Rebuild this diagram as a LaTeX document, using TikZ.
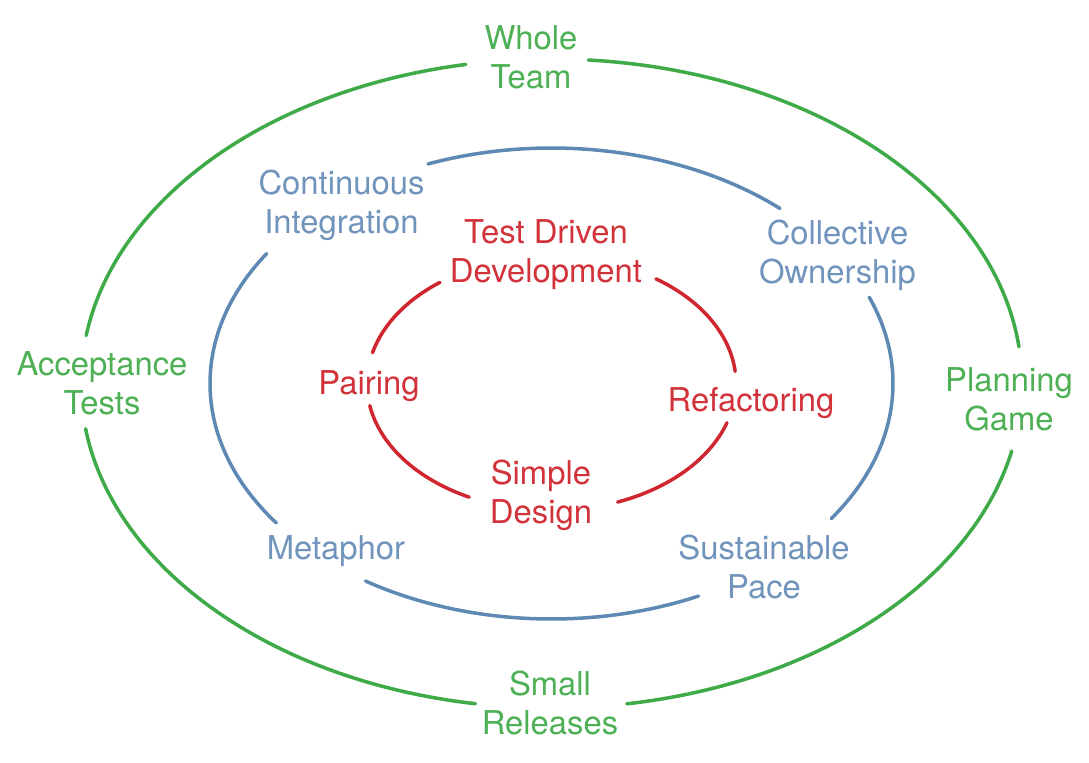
\documentclass[tikz,border=0pt]{standalone}
\usepackage{fontspec}
\setmainfont{TeX Gyre Heros}
\usetikzlibrary{calc}
\definecolor{xpgreen}{RGB}{62,170,72}
\definecolor{xpblue}{RGB}{95,137,181}
\definecolor{xpred}{RGB}{208,38,48}
\definecolor{xpgreentext}{RGB}{78,176,84}
\definecolor{xpbluetext}{RGB}{112,148,188}
\definecolor{xpredtext}{RGB}{210,50,58}
\tikzset{
  lbl/.style={inner sep=0pt, align=center, font=\fontsize{16.4}{19.5}\selectfont},
  glbl/.style={lbl, text=xpgreentext},
  blbl/.style={lbl, text=xpbluetext},
  rlbl/.style={lbl, text=xpredtext},
  ring/.style={line width=1.75pt, line cap=round},
  gring/.style={ring, draw=xpgreen},
  bring/.style={ring, draw=xpblue},
  rring/.style={ring, draw=xpred}
}
\begin{document}
\begin{tikzpicture}[x=0.5pt,y=0.5pt]
\useasboundingbox[fill=white] (0,0) rectangle (1089,-762);
\coordinate (C) at (551.5,-383.5);
% labels
\node[glbl] (whole) at (531,-57) {Whole\\Team};
\node[glbl] (at) at (102,-383) {Acceptance\\Tests};
\node[glbl] (pg) at (1009,-399) {Planning\\Game};
\node[glbl] (sr) at (550,-703) {Small\\Releases};
\node[blbl] (ci) at (341.5,-205) {Continuous\\Integration};
\node[blbl] (co) at (837.5,-255) {Collective\\Ownership};
\node[blbl] (meta) at (336,-551) {Metaphor};
\node[blbl] (sp) at (764,-567) {Sustainable\\Pace};
\node[rlbl] (tdd) at (546,-255) {Test Driven\\Development};
\node[rlbl] (pair) at (369,-386) {Pairing};
\node[rlbl] (refac) at (751,-403) {Refactoring};
\node[rlbl] (sd) at (541,-495) {Simple\\Design};
% outer ring (green)
\draw[gring] ($(C)+(100.5:470.5 and 324.5)$) arc[start angle=100.5, end angle=171.5, x radius=470.5, y radius=324.5];
\draw[gring] ($(C)+(188:470.5 and 324.5)$) arc[start angle=188, end angle=260.7, x radius=470.5, y radius=324.5];
\draw[gring] ($(C)+(279.2:470.5 and 324.5)$) arc[start angle=279.2, end angle=348, x radius=470.5, y radius=324.5];
\draw[gring] ($(C)+(6.5:470.5 and 324.5)$) arc[start angle=6.5, end angle=85.5, x radius=470.5, y radius=324.5];
% middle ring (blue)
\draw[bring] ($(C)+(48:341.5 and 235.5)$) arc[start angle=48, end angle=111.2, x radius=341.5, y radius=235.5];
\draw[bring] ($(C)+(146.5:341.5 and 235.5)$) arc[start angle=146.5, end angle=216.3, x radius=341.5, y radius=235.5];
\draw[bring] ($(C)+(237:341.5 and 235.5)$) arc[start angle=237, end angle=295.5, x radius=341.5, y radius=235.5];
\draw[bring] ($(C)+(-35:341.5 and 235.5)$) arc[start angle=-35, end angle=21.5, x radius=341.5, y radius=235.5];
% inner ring (red)
\draw[rring] ($(C)+(127.2:184.5 and 127)$) arc[start angle=127.2, end angle=166, x radius=184.5, y radius=127];
\draw[rring] ($(C)+(190:184.5 and 127)$) arc[start angle=190, end angle=243.5, x radius=184.5, y radius=127];
\draw[rring] ($(C)+(291:184.5 and 127)$) arc[start angle=291, end angle=342, x radius=184.5, y radius=127];
\draw[rring] ($(C)+(5.5:184.5 and 127)$) arc[start angle=5.5, end angle=55.5, x radius=184.5, y radius=127];
\end{tikzpicture}
\end{document}
